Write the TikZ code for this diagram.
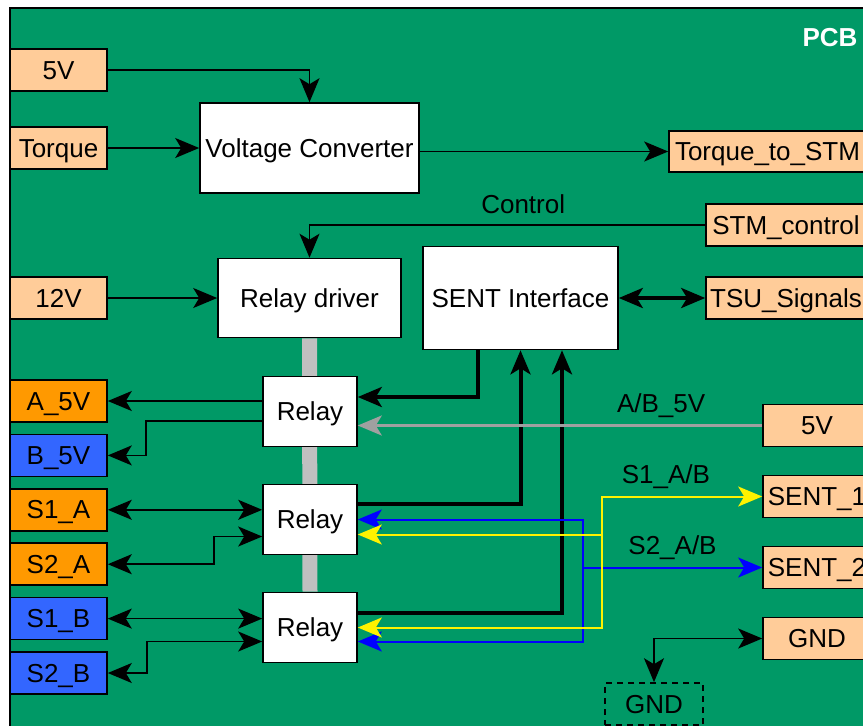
\documentclass[tikz,border=0pt]{standalone}
\usepackage{fontspec}
\setmainfont{Liberation Sans}
\usetikzlibrary{positioning, arrows.meta, calc}
\definecolor{pcbgreen}{RGB}{0,153,102}
\definecolor{peach}{RGB}{255,204,153}
\definecolor{pinorange}{RGB}{255,153,0}
\definecolor{pinblue}{RGB}{51,102,255}
\definecolor{railgrey}{RGB}{192,192,192}
\definecolor{linegrey}{RGB}{160,160,160}
\pgfdeclarelayer{bg}
\pgfsetlayers{bg,main}
\tikzset{
  >={Stealth[length=12pt, width=10pt, inset=3pt]},
  boxtext/.style={text height=1.0em, text depth=0.1em},
  pin/.style={rectangle, draw=black, line width=0.8pt, fill=peach, minimum width=48.5pt, minimum height=21pt, inner sep=0pt, text centered, boxtext},
  pinA/.style={pin, fill=pinorange},
  pinB/.style={pin, fill=pinblue},
  port/.style={pin, minimum width=54pt},
  block/.style={rectangle, draw=black, line width=0.8pt, fill=white, inner sep=0pt, text centered, boxtext},
  relay/.style={block, minimum width=47pt, minimum height=35pt},
  ground/.style={rectangle, draw=black, line width=0.8pt, dash pattern=on 3pt off 2.5pt, minimum width=49pt, minimum height=21pt, inner sep=0pt, boxtext},
  title/.style={text=white, font=\fontsize{13}{15}\selectfont\bfseries},
  board/.style={draw=black, line width=0.8pt, fill=pcbgreen},
  rail/.style={draw=railgrey, line width=7.5pt},
  arrow/.style={line width=0.85pt, ->},
  bus/.style={line width=2pt, ->},
  gline/.style={draw=linegrey, line width=1.4pt, ->},
  bline/.style={draw=blue, line width=1pt},
  yline/.style={draw=yellow, line width=1pt}
}
\begin{document}
\begin{tikzpicture}[x=0.5pt, y=-0.5pt, every node/.style={font=\fontsize{13}{15}\selectfont}]
        \useasboundingbox (0,0) rectangle (863,725);
        \node (pcb) [title] at (830,38) {PCB};

        % inputs on the left edge
        \node (in5) [pin] at (58.5,70) {5V};
        \node (torque) [pin] at (58.5,148) {Torque};
        \node (in12) [pin] at (58.5,298) {12V};
        \node (a5v) [pinA] at (58.5,401) {A\_5V};
        \node (b5v) [pinB, below=5.4pt of a5v] {B\_5V};
        \node (s1a) [pinA, below=5.4pt of b5v] {S1\_A};
        \node (s2a) [pinA, below=5.4pt of s1a] {S2\_A};
        \node (s1b) [pinB, below=5.4pt of s2a] {S1\_B};
        \node (s2b) [pinB, below=5.4pt of s1b] {S2\_B};

        % blocks on the board
        \node (conv) [block, minimum width=109.5pt, minimum height=45pt] at (309.5,148) {Voltage Converter};
        \node (driver) [block, minimum width=91.5pt, minimum height=39.5pt] at (309.5,298) {Relay driver};
        \node (sent) [block, minimum width=97.5pt, minimum height=51.5pt] at (520.5,298) {SENT Interface};
        \node (relay1) [relay] at (310,411.5) {Relay};
        \node (relay2) [relay, below=18.2pt of relay1] {Relay};
        \node (relay3) [relay, below=18.2pt of relay2] {Relay};

        % outputs on the right edge
        \node (tostm) [pin, minimum width=98.5pt, minimum height=20.5pt] at (767.5,151.5) {Torque\_to\_STM};
        \node (stmctl) [pin, minimum width=80pt] at (786,225) {STM\_control};
        \node (tsu) [pin, minimum width=80pt] at (786,298) {TSU\_Signals};
        \node (in5r) [port] at (817,425.5) {5V};
        \node (sent1) [port, below=13.7pt of in5r] {SENT\_1};
        \node (sent2) [port, below=13.7pt of sent1] {SENT\_2};
        \node (gndr) [port, below=13.7pt of sent2] {GND};
        \node (gndd) [ground] at (654,704) {GND};

        \begin{pgfonlayer}{bg}
        \draw [board] (10,8) rectangle (900,760);
        \draw [rail] (driver.south) -- (relay3.north);
        \end{pgfonlayer}

        \draw [arrow] (in5) -| (conv);
        \draw [arrow] (torque) -- (conv);
        \draw [arrow] (conv.east |- tostm) -- (tostm);
        \draw [arrow] (stmctl) -| node[pos=0.23, above=2pt] {Control} (driver);
        \draw [arrow] (in12) -- (driver);
        \draw [bus, <->] (sent) -- (tsu);

        % relays to the SENT interface
        \draw [bus] ($(sent.south)+(-42.5,0)$) |- ($(relay1.east)+(0,-14.5)$);
        \draw [bus] ($(relay2.east)+(0,-16)$) -| (sent.south);
        \draw [bus] ($(relay3.east)+(0,-15)$) -| ($(sent.south)+(41.5,0)$);
        \draw [gline] (in5r) -- node[pos=0.25, above] {A/B\_5V} (relay1.east |- in5r);

        % sensor lines to SENT_1 and SENT_2
        \coordinate (bj) at ($(relay2.east)+(225,48)$);
        \coordinate (yj) at ($(relay2.east)+(244,15)$);
        \draw [bline, <->] (relay2.east) -| (bj) |- ($(relay3.east)+(0,14)$);
        \draw [bline, ->] (bj) -- node[above] {S2\_A/B} (bj -| sent2.west);
        \draw [yline, <->] ($(relay2.east)+(0,15)$) -- (yj) |- (relay3.east);
        \draw [yline, ->] (yj) |- node[pos=0.7, above] {S1\_A/B} (sent1.west);
        \draw [arrow, <->] (gndr) -| (gndd);

        % relays to the left pins
        \draw [arrow] (relay1.west |- a5v) -- (a5v);
        \draw [arrow] ($(relay1.west)+(0,9.5)$) -- ++(-116,0) |- (b5v);
        \draw [arrow, <->] (s1a) -- (relay2.west |- s1a);
        \draw [arrow, <->] ($(relay2.west)+(0,17)$) -- ++(-48,0) |- (s2a);
        \draw [arrow, <->] (s1b) -- (relay3.west |- s1b);
        \draw [arrow, <->] ($(relay3.west)+(0,14)$) -- ++(-115,0) |- (s2b);
    \end{tikzpicture}
\end{document}
